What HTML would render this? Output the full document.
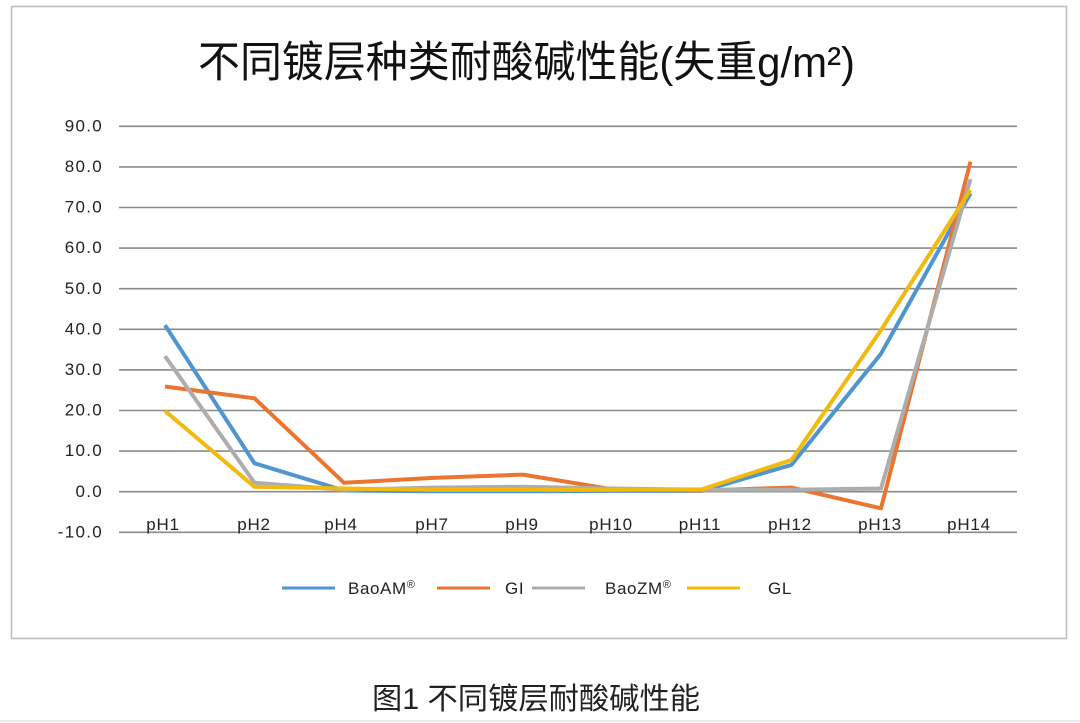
<!DOCTYPE html>
<html><head><meta charset="utf-8">
<style>
html,body{margin:0;padding:0;background:#fff;}
svg{display:block;}
</style></head>
<body>
<svg width="1080" height="723" viewBox="0 0 1080 723" xmlns="http://www.w3.org/2000/svg">
<rect width="1080" height="723" fill="#fff"/>
<rect x="11.5" y="6.5" width="1055" height="632" fill="#fff" stroke="#bdbdbd" stroke-width="1.5"/>
<line x1="0" y1="721" x2="1080" y2="721" stroke="#ececec" stroke-width="2"/>
<text x="198" y="77" font-family="'Liberation Sans','Noto Sans CJK SC',sans-serif" font-size="43" fill="#111" textLength="657" lengthAdjust="spacingAndGlyphs">不同镀层种类耐酸碱性能(失重g/m²)</text>
<g stroke="#8a8a8a" stroke-width="1.6">
<line x1="119" y1="126.3" x2="1017" y2="126.3"/>
<line x1="119" y1="166.9" x2="1017" y2="166.9"/>
<line x1="119" y1="207.5" x2="1017" y2="207.5"/>
<line x1="119" y1="248.1" x2="1017" y2="248.1"/>
<line x1="119" y1="288.7" x2="1017" y2="288.7"/>
<line x1="119" y1="329.3" x2="1017" y2="329.3"/>
<line x1="119" y1="369.9" x2="1017" y2="369.9"/>
<line x1="119" y1="410.5" x2="1017" y2="410.5"/>
<line x1="119" y1="451.1" x2="1017" y2="451.1"/>
<line x1="119" y1="491.7" x2="1017" y2="491.7"/>
<line x1="119" y1="532.3" x2="1017" y2="532.3"/>
</g>
<g font-family="'Liberation Sans',sans-serif" font-size="17" letter-spacing="1.3" fill="#222" text-anchor="end">
<text x="103" y="131.5">90.0</text>
<text x="103" y="172">80.0</text>
<text x="103" y="212.5">70.0</text>
<text x="103" y="253">60.0</text>
<text x="103" y="294">50.0</text>
<text x="103" y="334.5">40.0</text>
<text x="103" y="375">30.0</text>
<text x="103" y="415.5">20.0</text>
<text x="103" y="456">10.0</text>
<text x="103" y="497">0.0</text>
<text x="103" y="537.5">-10.0</text>
</g>
<g font-family="'Liberation Sans',sans-serif" font-size="17" letter-spacing="0.8" fill="#222" text-anchor="middle">
<text x="163" y="530">pH1</text>
<text x="254" y="530">pH2</text>
<text x="341" y="530">pH4</text>
<text x="432" y="530">pH7</text>
<text x="522" y="530">pH9</text>
<text x="611" y="530">pH10</text>
<text x="700" y="530">pH11</text>
<text x="790" y="530">pH12</text>
<text x="880" y="530">pH13</text>
<text x="969" y="530">pH14</text>
</g>
<g fill="none" stroke-width="4" stroke-linejoin="round" stroke-linecap="butt">
<polyline stroke="#4f95d0" points="165,325.2 254.5,463.3 344,490.5 433.5,491.3 523,491.3 612.5,490.9 702,490.9 791.5,464.9 881,353.7 970.5,193.3"/>
<polyline stroke="#ea7530" points="165,386.5 254.5,398.3 344,482.8 433.5,477.9 523,474.6 612.5,489.3 702,490.5 791.5,487.6 881,508.3 970.5,161.6"/>
<polyline stroke="#adadad" points="165,356.1 254.5,482.8 344,489.7 433.5,487.6 523,486.8 612.5,488.5 702,489.7 791.5,489.7 881,488.5 970.5,179.1"/>
<polyline stroke="#f2b90f" points="165,410.9 254.5,486.8 344,488.5 433.5,489.7 523,489.7 612.5,489.7 702,489.3 791.5,460.0 881,330.1 970.5,190.0"/>
</g>
<g stroke-width="3">
<line x1="282" y1="588" x2="335" y2="588" stroke="#4f95d0"/>
<line x1="437" y1="588" x2="490" y2="588" stroke="#ea7530"/>
<line x1="532" y1="588" x2="585" y2="588" stroke="#adadad"/>
<line x1="687" y1="588" x2="740" y2="588" stroke="#f2b90f"/>
</g>
<g font-family="'Liberation Sans',sans-serif" font-size="17" letter-spacing="0.6" fill="#222">
<text x="348" y="594">BaoAM<tspan font-size="11" dy="-6">®</tspan></text>
<text x="505" y="594">GI</text>
<text x="605" y="594">BaoZM<tspan font-size="11" dy="-6">®</tspan></text>
<text x="768" y="594">GL</text>
</g>
<text x="372" y="709" font-family="'Liberation Sans','Noto Sans CJK SC',sans-serif" font-size="30" fill="#222" textLength="328" lengthAdjust="spacingAndGlyphs">图1 不同镀层耐酸碱性能</text>
</svg>
</body></html>
